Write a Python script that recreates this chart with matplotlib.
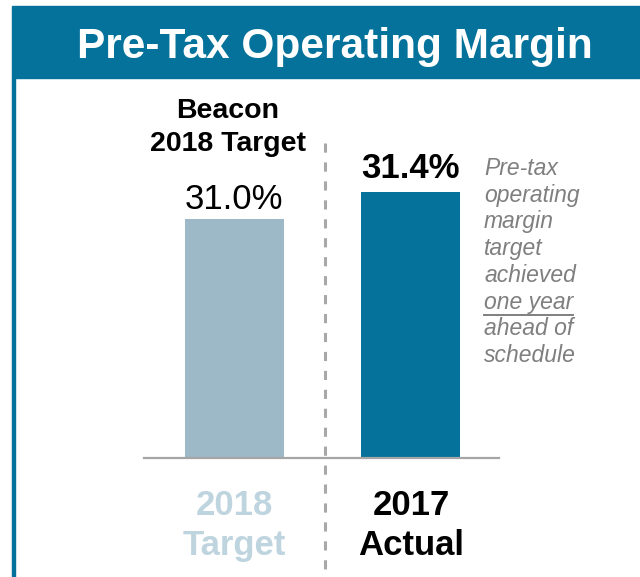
import matplotlib
matplotlib.use("Agg")
import matplotlib.pyplot as plt
from matplotlib.lines import Line2D
from matplotlib.patches import Rectangle

plt.rcParams["font.family"] = ["Liberation Sans", "DejaVu Sans"]

W, H = 640, 577

categories = ["2018 Target", "2017 Actual"]
values = [31.0, 31.4]
value_labels = ["31.0%", "31.4%"]
bottom_labels = [["2018", "Target"], ["2017", "Actual"]]
note_lines = ["Pre-tax", "operating", "margin", "target", "achieved",
              "one year", "ahead of", "schedule"]

TEAL = "#04729A"
LIGHT = "#9DB9C7"
LIGHT_TXT = "#BED4DE"
GRAY = "#A6A6A6"


def fx(x):
    return x / W


def fy(y):
    return 1 - y / H


fig = plt.figure(figsize=(W / 100, H / 100), dpi=100)
fig.patch.set_facecolor("white")

# header band + left border
fig.patches.append(Rectangle((fx(12), fy(78)), 1 - fx(12), fy(6) - fy(78),
                             transform=fig.transFigure, color=TEAL, zorder=0))
fig.patches.append(Rectangle((fx(12), 0), fx(3), fy(78),
                             transform=fig.transFigure, color=TEAL, zorder=0))
fig.text(fx(335), fy(58), "Pre-Tax Operating Margin", color="white",
         fontsize=30.5, fontweight="bold", ha="center", va="baseline")

# chart area
ax = fig.add_axes([fx(144), fy(458), fx(499) - fx(144), fy(100) - fy(458)])
ax.set_xlim(-0.51, 1.50)
ax.set_ylim(27.46, 27.46 + 358 / 67.5)
bars = ax.bar([0, 1], values, width=0.56, color=[LIGHT, TEAL], zorder=2)
for s in ["top", "right", "left"]:
    ax.spines[s].set_visible(False)
ax.spines["bottom"].set_color(GRAY)
ax.spines["bottom"].set_linewidth(1.6)
ax.set_xticks([])
ax.set_yticks([])
ax.patch.set_alpha(0)

# value labels
ax.annotate(value_labels[0], (0, values[0]), xytext=(0, 7.2), textcoords="offset points",
            ha="center", va="baseline", fontsize=25, color="black")
ax.annotate(value_labels[1], (1, values[1]), xytext=(0, 10), textcoords="offset points",
            ha="center", va="baseline", fontsize=25, fontweight="bold", color="black")

# header over target bar
fig.text(fx(228), fy(118), "Beacon", fontsize=20.5, fontweight="bold",
         ha="center", va="baseline")
fig.text(fx(228), fy(151), "2018 Target", fontsize=20.5, fontweight="bold",
         ha="center", va="baseline")

# divider
fig.add_artist(Line2D([fx(325), fx(325)], [fy(143), 0], transform=fig.transFigure,
                      color="#A8A8A8", lw=2.2, linestyle=(0, (3.0, 3.2))))

# bottom category labels
for i, (l1, l2) in enumerate(bottom_labels):
    c = LIGHT_TXT if i == 0 else "black"
    xc = [234, 411][i]
    fig.text(fx(xc), fy(515), l1, fontsize=25, fontweight="bold", color=c,
             ha="center", va="baseline")
    fig.text(fx(xc), fy(555), l2, fontsize=25, fontweight="bold", color=c,
             ha="center", va="baseline")

# side note
for i, line in enumerate(note_lines):
    yb = 175 + i * 26.7
    t = fig.text(fx(484), fy(yb), line, fontsize=16.5, fontstyle="italic",
                 color="#7F7F7F", ha="left", va="baseline")
    if line == "one year":
        fig.canvas.draw()
        bb = t.get_window_extent()
        fig.add_artist(Line2D([bb.x0 / W, bb.x1 / W], [fy(yb + 6), fy(yb + 6)],
                              transform=fig.transFigure, color="#7F7F7F", lw=1.4))

fig.savefig("out.png", dpi=100)
